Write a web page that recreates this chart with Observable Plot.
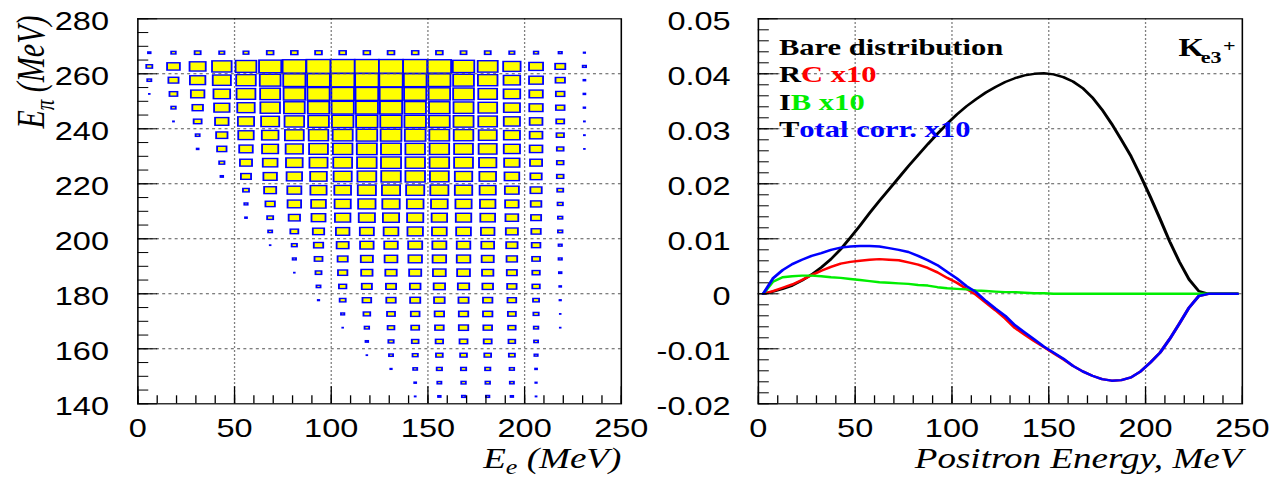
<!DOCTYPE html>
<html><head><meta charset="utf-8">
<script src="https://cdn.jsdelivr.net/npm/d3@7"></script>
<script src="https://cdn.jsdelivr.net/npm/@observablehq/plot@0.6"></script>
<style>
html,body{margin:0;padding:0;background:#fff;overflow:hidden;}
#wrap{position:relative;width:978px;height:477px;transform:scaleX(1.30061);transform-origin:0 0;}
#wrap svg{position:absolute;top:0;overflow:visible;background:transparent;max-width:none;}
</style></head><body><div id="wrap"></div>
<script>
// ---------- Left panel data: 2D box histogram E_pi vs E_e ----------
const eeCenters = [6.25,18.75,31.25,43.75,56.25,68.75,81.25,93.75,106.25,118.75,131.25,143.75,156.25,168.75,181.25,193.75,206.25,218.75,231.25];
const epiCenters = [267.5,262.5,257.5,252.5,247.5,242.5,237.5,232.5,227.5,222.5,217.5,212.5,207.5,202.5,197.5,192.5,187.5,182.5,177.5,172.5,167.5,162.5,157.5,152.5,147.5,142.5];
const eeBinWidth = 12.5, epiBinWidth = 5;
// relative box size (percent of max) per cell, rows follow epiCenters, columns follow eeCenters
const boxSize = [
  [11,19,25,22,22,28,28,28,28,28,28,28,28,25,25,22,19,14,6],
  [25,53,67,81,86,92,97,100,100,100,100,100,97,89,83,72,58,42,14],
  [17,42,64,75,81,86,92,94,97,97,97,94,92,86,81,69,58,39,8],
  [3,33,56,69,78,83,89,92,94,94,94,92,89,86,78,69,56,36,8],
  [0,19,44,64,72,81,86,89,92,92,92,89,86,83,78,67,56,36,7],
  [0,4,33,56,67,75,81,86,89,89,89,89,86,83,78,67,53,33,4],
  [0,0,17,47,64,69,78,81,83,86,86,86,83,81,75,67,53,31,4],
  [0,0,8,39,56,67,72,78,81,83,83,81,81,78,75,67,53,28,3],
  [0,0,0,22,50,61,69,75,78,81,83,81,81,78,72,64,50,28,0],
  [0,0,0,11,42,56,64,69,75,78,81,81,78,72,69,61,47,28,0],
  [0,0,0,0,25,50,58,67,69,75,75,75,75,72,67,58,47,25,0],
  [0,0,0,0,14,39,56,61,67,72,72,69,69,67,64,56,44,22,0],
  [0,0,0,0,8,25,47,58,64,67,67,67,64,64,61,53,42,19,0],
  [0,0,0,0,0,17,33,47,56,58,61,64,61,61,56,50,39,19,0],
  [0,0,0,0,0,3,22,39,50,56,56,58,58,56,53,47,36,14,0],
  [0,0,0,0,0,0,14,33,42,50,53,56,56,56,50,44,33,14,0],
  [0,0,0,0,0,0,3,25,39,47,47,50,53,53,47,42,31,11,0],
  [0,0,0,0,0,0,0,17,31,42,42,44,47,47,44,39,31,8,0],
  [0,0,0,0,0,0,0,6,25,36,39,42,44,42,39,36,25,6,0],
  [0,0,0,0,0,0,0,0,14,28,33,36,39,39,39,33,22,3,0],
  [0,0,0,0,0,0,0,0,3,19,28,33,36,39,36,31,19,3,0],
  [0,0,0,0,0,0,0,0,0,11,22,28,31,33,33,28,17,0,0],
  [0,0,0,0,0,0,0,0,0,3,17,22,28,28,28,25,14,0,0],
  [0,0,0,0,0,0,0,0,0,0,6,17,22,22,22,19,8,0,0],
  [0,0,0,0,0,0,0,0,0,0,0,8,17,19,19,17,6,0,0],
  [0,0,0,0,0,0,0,0,0,0,0,4,11,14,14,11,4,0,0]
];
const eeTicks = [0,50,100,150,200,250];
const epiTicks = [140,160,180,200,220,240,260,280];

// ---------- Right panel data: spectra vs positron energy ----------
const energy = [2.5,7.5,12.5,17.5,22.5,27.5,32.5,37.5,42.5,47.5,52.5,57.5,62.5,67.5,72.5,77.5,82.5,87.5,92.5,97.5,102.5,107.5,112.5,117.5,122.5,127.5,132.5,137.5,142.5,147.5,152.5,157.5,162.5,167.5,172.5,177.5,182.5,187.5,192.5,197.5,202.5,207.5,212.5,217.5,222.5,227.5,232.5,237.5,242.5,247.5];
const bare = [0,0.0004,0.0009,0.0015,0.0024,0.0035,0.0048,0.0063,0.0081,0.0102,0.0124,0.0147,0.0169,0.0190,0.0211,0.0232,0.0252,0.0272,0.0291,0.0309,0.0326,0.0341,0.0354,0.0366,0.0376,0.0385,0.0392,0.0397,0.0400,0.0401,0.0399,0.0394,0.0386,0.0374,0.0357,0.0335,0.0309,0.0280,0.0250,0.0214,0.0176,0.0136,0.0095,0.0058,0.0026,0.0005,0,0,0,0];
const rc = [0,0.0005,0.0011,0.0017,0.0025,0.0034,0.0042,0.0049,0.0055,0.0058,0.0060,0.0062,0.0063,0.0062,0.0061,0.0057,0.0053,0.0047,0.0039,0.0029,0.0020,0.0009,-0.0002,-0.0016,-0.0030,-0.0045,-0.0062,-0.0074,-0.0086,-0.0097,-0.0108,-0.0119,-0.0131,-0.0141,-0.0149,-0.0155,-0.0158,-0.0157,-0.0152,-0.0141,-0.0125,-0.0107,-0.0082,-0.0054,-0.0025,-0.0004,0,0,0,0];
const ib = [0,0.0022,0.0030,0.0032,0.0033,0.0033,0.0032,0.0030,0.0029,0.0027,0.0025,0.0023,0.0021,0.0020,0.0019,0.0018,0.0016,0.0015,0.0012,0.0010,0.0009,0.0008,0.0006,0.0005,0.0004,0.0003,0.0003,0.0002,0.0001,0.0001,0,0,0,0,0,0,0,0,0,0,0,0,0,0,0,0,0,0,0,0];
const total = [0,0.0028,0.0043,0.0054,0.0062,0.0069,0.0074,0.0080,0.0084,0.0086,0.0087,0.0087,0.0086,0.0083,0.0080,0.0076,0.0069,0.0061,0.0052,0.0040,0.0028,0.0014,0.0003,-0.0013,-0.0027,-0.0040,-0.0057,-0.0070,-0.0083,-0.0096,-0.0107,-0.0118,-0.0131,-0.0141,-0.0149,-0.0155,-0.0158,-0.0157,-0.0152,-0.0141,-0.0125,-0.0107,-0.0082,-0.0054,-0.0025,-0.0004,0,0,0,0];
const energyTicks = [0,50,100,150,200,250];
const valueTicks = [-0.02,-0.01,0,0.01,0.02,0.03,0.04,0.05];
const legendHead = ["Bare distribution","R","I","T"];
const legendTail = ["","C x10","B x10","otal corr. x10"];
const legendColor = ["#000000","#ff0000","#00ee00","#0000ff"];

// ---------- helpers ----------
const SANS = "'Liberation Sans', Arial, sans-serif";
const SERIF = "'Liberation Serif', 'Times New Roman', serif";
const ctx = document.createElement("canvas").getContext("2d");
function tw(str, font) { ctx.font = font; return ctx.measureText(str).width; }
function label(str, o) {
  return Plot.text([str], {text: d => d, lineAnchor: "bottom", fontFamily: SERIF, ...o});
}
const gridStroke = "#555";
const W = 489, H = 477, MT = 18.3, MB = 73.7;
const TITLE = 28.5, SUB = 20;

// ---------- Left plot ----------
const cells = [];
epiCenters.forEach((yc, r) => eeCenters.forEach((xc, c) => {
  const v = boxSize[r][c];
  if (v > 0) cells.push({xc, yc, f: v / 100});
}));
const eeMinor = d3.range(0, 251, 10);
const epiMinor = d3.range(140, 281, 5);

const itT = `italic ${TITLE}px 'Liberation Serif'`;
const itS = `italic ${SUB}px 'Liberation Serif'`;
const wMeV = tw(" (MeV)", itT), wSubE = tw("e", itS);

const left = Plot.plot({
  width: W, height: H,
  marginLeft: 105.5, marginRight: 11.8, marginTop: MT, marginBottom: MB,
  style: {fontFamily: SANS, background: "transparent", overflow: "visible"},
  x: {domain: [0, 250]},
  y: {domain: [140, 280]},
  marks: [
    Plot.rect(cells, {
      x1: d => d.xc - eeBinWidth / 2 * d.f, x2: d => d.xc + eeBinWidth / 2 * d.f,
      y1: d => d.yc - epiBinWidth / 2 * d.f, y2: d => d.yc + epiBinWidth / 2 * d.f,
      fill: "#ffff00", stroke: "#0000ff", strokeWidth: 1.4
    }),
    Plot.gridX({ticks: eeTicks.slice(1, -1), stroke: gridStroke, strokeOpacity: 1, strokeDasharray: "1.4,2.6"}),
    Plot.gridY({ticks: epiTicks.slice(1, -1), stroke: gridStroke, strokeOpacity: 1, strokeDasharray: "2.3,2.5"}),
    Plot.axisX({ticks: eeMinor, tickSize: 8, dy: -8, fill: "none", label: null}),
    Plot.axisX({ticks: eeTicks, tickSize: 17, dy: -17, fill: "none", label: null}),
    Plot.axisX({ticks: eeTicks, tickSize: 0, tickPadding: 15, fontSize: 25, label: null, tickFormat: d => String(d)}),
    Plot.axisY({ticks: epiMinor, tickSize: 8.5, dx: 8.5, fill: "none", label: null}),
    Plot.axisY({ticks: epiTicks, tickSize: 15.4, dx: 15.4, fill: "none", label: null}),
    Plot.axisY({ticks: epiTicks, tickSize: 0, tickPadding: 22.2, dy: 3, fontSize: 25, label: null, tickFormat: d => String(d)}),
    Plot.frame({stroke: "black", strokeWidth: 1.2}),
    // x title  E_e (MeV)
    label(" (MeV)", {frameAnchor: "bottom-right", textAnchor: "end", dy: 63.7, fontSize: TITLE, fontStyle: "italic"}),
    label("e", {frameAnchor: "bottom-right", textAnchor: "end", dx: -wMeV, dy: 70, fontSize: SUB, fontStyle: "italic"}),
    label("E", {frameAnchor: "bottom-right", textAnchor: "end", dx: -wMeV - wSubE, dy: 63.7, fontSize: TITLE, fontStyle: "italic"}),
  ]
});

// y title rotated: E_pi (MeV)
const it30 = "italic 30px 'Liberation Serif'";
const it21 = "italic 21px 'Liberation Serif'";
const wE = tw("E", it30), wPi = tw("π", it21);
const yStart = 109.7;
const leftFull = Plot.plot({
  width: W, height: H,
  marginLeft: 105.5, marginRight: 11.8, marginTop: MT, marginBottom: MB,
  style: {fontFamily: SANS, background: "transparent", overflow: "visible"},
  x: {domain: [0, 250], axis: null},
  y: {domain: [140, 280], axis: null},
  marks: [
    label("E", {frameAnchor: "top-left", rotate: -90, textAnchor: "start", dx: -72.4, dy: yStart, fontSize: 30, fontStyle: "italic"}),
    label("π", {frameAnchor: "top-left", rotate: -90, textAnchor: "start", dx: -64.7, dy: yStart - wE, fontSize: 21, fontStyle: "italic"}),
    label(" (MeV)", {frameAnchor: "top-left", rotate: -90, textAnchor: "start", dx: -72.4, dy: yStart - wE - wPi, fontSize: 30, fontStyle: "italic"})
  ]
});

// ---------- Right plot ----------
const enMinor = d3.range(0, 251, 10);
const valMinor = d3.range(-0.02, 0.0501, 0.002);
const b235 = "bold 23.5px 'Liberation Serif'";
const legendMarks = [];
legendHead.forEach((h, i) => {
  const dy = 35.7 + 27.6 * i;
  legendMarks.push(label(h, {frameAnchor: "top-left", textAnchor: "start", dx: 15.8, dy, fontSize: 23.5, fontWeight: "bold", fill: "#000"}));
  if (legendTail[i]) legendMarks.push(label(legendTail[i], {frameAnchor: "top-left", textAnchor: "start", dx: 15.8 + tw(h, b235), dy, fontSize: 23.5, fontWeight: "bold", fill: legendColor[i]}));
});

const right = Plot.plot({
  width: W, height: H,
  marginLeft: 93.6, marginRight: 23.3, marginTop: MT, marginBottom: MB,
  style: {fontFamily: SANS, background: "transparent", overflow: "visible"},
  x: {domain: [0, 250]},
  y: {domain: [-0.02, 0.05]},
  marks: [
    Plot.gridX({ticks: energyTicks.slice(1, -1), stroke: gridStroke, strokeOpacity: 1, strokeDasharray: "1.4,2.6"}),
    Plot.gridY({ticks: valueTicks.slice(1, -1), stroke: gridStroke, strokeOpacity: 1, strokeDasharray: "2.3,2.5"}),
    Plot.line(energy, {x: energy, y: bare, stroke: "#000000", strokeWidth: 2.4}),
    Plot.line(energy, {x: energy, y: rc, stroke: "#ff0000", strokeWidth: 2.4}),
    Plot.line(energy, {x: energy, y: ib, stroke: "#00ee00", strokeWidth: 2.4}),
    Plot.line(energy, {x: energy, y: total, stroke: "#0000ff", strokeWidth: 2.4}),
    Plot.axisX({ticks: enMinor, tickSize: 8, dy: -8, fill: "none", label: null}),
    Plot.axisX({ticks: energyTicks, tickSize: 17, dy: -17, fill: "none", label: null}),
    Plot.axisX({ticks: energyTicks, tickSize: 0, tickPadding: 15, fontSize: 25, label: null, tickFormat: d => String(d)}),
    Plot.axisY({ticks: valMinor, tickSize: 8.5, dx: 8.5, fill: "none", label: null}),
    Plot.axisY({ticks: valueTicks, tickSize: 15.4, dx: 15.4, fill: "none", label: null}),
    Plot.axisY({ticks: valueTicks, tickSize: 0, tickPadding: 21.3, dy: 3, fontSize: 25, label: null, tickFormat: d => d === 0 ? "0" : d.toFixed(2)}),
    Plot.frame({stroke: "black", strokeWidth: 1.2}),
    ...legendMarks,
    label("K", {frameAnchor: "top-right", textAnchor: "end", dx: -29.7, dy: 36.7, fontSize: 25, fontWeight: "bold"}),
    label("e3", {frameAnchor: "top-right", textAnchor: "end", dx: -15.9, dy: 44.5, fontSize: 17, fontWeight: "bold"}),
    label("+", {frameAnchor: "top-right", textAnchor: "end", dx: -5.1, dy: 33, fontSize: 17, fontWeight: "bold"}),
    label("Positron Energy, MeV", {frameAnchor: "bottom-right", textAnchor: "end", dy: 63.7, fontSize: TITLE, fontStyle: "italic"})
  ]
});

const wrap = document.getElementById("wrap");
left.style.left = "0px";
leftFull.style.left = "0px";
right.style.left = W + "px";
wrap.appendChild(left);
wrap.appendChild(leftFull);
wrap.appendChild(right);
</script></body></html>
